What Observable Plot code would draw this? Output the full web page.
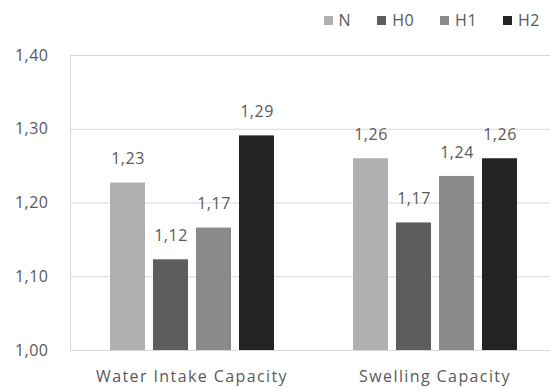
<!DOCTYPE html>
<html>
<head>
<meta charset="utf-8">
<script src="https://cdn.jsdelivr.net/npm/d3@7"></script>
<script src="https://cdn.jsdelivr.net/npm/@observablehq/plot@0.6"></script>
<style>
  html, body { margin: 0; padding: 0; background: #fff; overflow: hidden; }
  #chart { width: 550px; height: 388px; position: relative; font-family: "Open Sans", sans-serif; color: #595959; }
  .legend { height: 36px; display: flex; justify-content: flex-end; align-items: center; padding-right: 10px; box-sizing: border-box; padding-top: 4px; font-size: 16px; letter-spacing: 0.5px; }
  .legend .item { display: flex; align-items: center; margin-left: 26px; }
  .legend .sw { width: 9px; height: 9px; margin-right: 6px; }
  g[aria-label="fx-axis tick label"] text { letter-spacing: 1.4px; }
</style>
</head>
<body>
<div id="chart"></div>
<script>
const categories = ["Water Intake Capacity", "Swelling Capacity"];
const series = ["N", "H0", "H1", "H2"];
const colors = ["#b0b0b0", "#5e5e5e", "#8a8a8a", "#232323"];
const valuesN  = [1.227, 1.260];
const valuesH0 = [1.123, 1.173];
const valuesH1 = [1.166, 1.236];
const valuesH2 = [1.291, 1.260];
const yTicks = [1.00, 1.10, 1.20, 1.30, 1.40];

const seriesValues = [valuesN, valuesH0, valuesH1, valuesH2];
const data = [];
categories.forEach((c, i) => series.forEach((s, j) => data.push({category: c, series: s, value: seriesValues[j][i]})));

const locale = d3.formatLocale({decimal: ",", thousands: ".", grouping: [3], currency: ["", ""]});
const fmt = locale.format(".2f");

const root = d3.select("#chart");
const legend = root.append("div").attr("class", "legend");
series.forEach((s, j) => {
  const it = legend.append("div").attr("class", "item");
  it.append("div").attr("class", "sw").style("background", colors[j]);
  it.append("span").text(s);
});

const plot = Plot.plot({
  width: 550,
  height: 352,
  marginLeft: 70,
  marginRight: -6,
  marginTop: 19,
  marginBottom: 38,
  style: {fontFamily: "Open Sans, sans-serif", fontSize: "16px", color: "#595959", background: "#fff", letterSpacing: "0.5px"},
  fx: {domain: categories, padding: 0, label: null, tickSize: 0, tickPadding: 20},
  x: {domain: series, paddingInner: 0.187, paddingOuter: 0.861, axis: null},
  y: {domain: [1.0, 1.4], ticks: yTicks, tickFormat: fmt, tickSize: 0, tickPadding: 22, label: null},
  color: {domain: series, range: colors},
  marks: [
    Plot.ruleY(yTicks, {stroke: "#d9d9d9", strokeWidth: 1}),
    Plot.frame({anchor: "left", stroke: "#d9d9d9", facet: "super"}),
    Plot.barY(data, {fx: "category", x: "series", y1: 1.0, y2: "value", fill: "series"}),
    Plot.text(data, {fx: "category", x: "series", y: "value", text: d => fmt(d.value), dy: -24, fill: "#595959"})
  ]
});
root.node().appendChild(plot);
</script>
</body>
</html>
